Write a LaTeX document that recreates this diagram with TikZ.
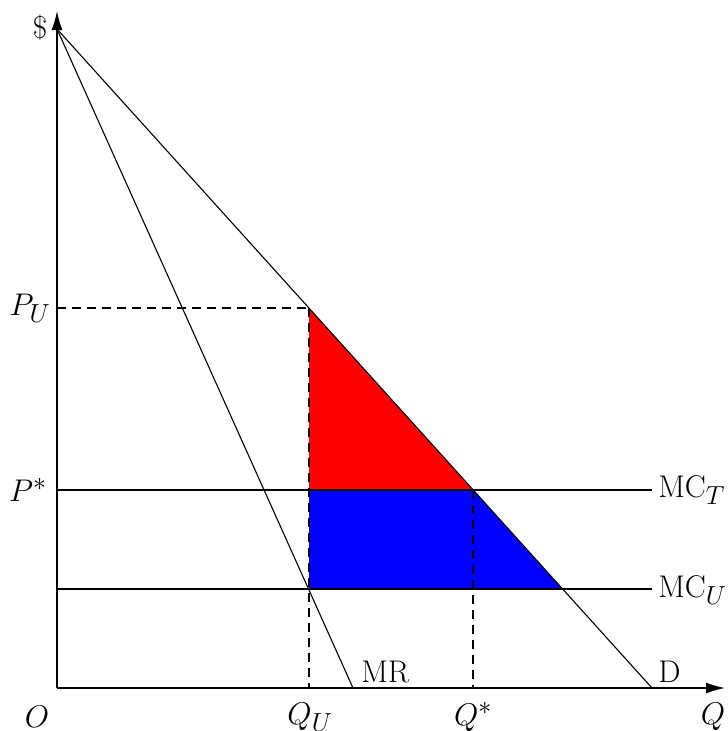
\documentclass[tikz,border=0pt]{standalone}
\usetikzlibrary{arrows.meta}
\begin{document}
\begin{tikzpicture}[x=1pt,y=-1pt,
  lbl/.style={font=\Huge, scale=1.26, inner sep=0pt},
  curve/.style={line width=1.1pt},
  dashline/.style={line width=1.1pt, dash pattern=on 9pt off 6pt},
  axis/.style={line width=1.4pt, -{Latex[length=19pt,width=11pt]}}]
\useasboundingbox (0,0) rectangle (728,731);
% key points
\coordinate (O) at (57,688);
\coordinate (ytop) at (57,11);
\coordinate (xend) at (725,688);
\coordinate (A) at (57,29);
\coordinate (Dend) at (652,688);
\coordinate (MRend) at (353,688);
\coordinate (PU) at (309,308);
\coordinate (Ps) at (473,490);
\coordinate (Bu) at (562,589);
\coordinate (QUy) at (309,589);
\coordinate (QUt) at (309,490);
\coordinate (PUax) at (57,308);
\coordinate (Psax) at (57,490);
\coordinate (MCUax) at (57,589);
\coordinate (MCTend) at (652,490);
\coordinate (MCUend) at (652,589);
\coordinate (QUx) at (309,688);
\coordinate (Qsx) at (473,688);
% areas
\fill[red] (PU) -- (QUt) -- (Ps) -- cycle;
\fill[blue] (QUt) -- (Ps) -- (Bu) -- (QUy) -- cycle;
% dashed guides
\draw[dashline] (PUax) -- (PU);
\draw[dashline] (PU) -- (QUx);
\draw[dashline] (Ps) -- (Qsx);
% cost lines
\draw[curve] (Psax) -- (MCTend);
\draw[curve] (MCUax) -- (MCUend);
% demand and MR
\draw[curve] (A) -- (Dend);
\draw[curve] (A) -- (MRend);
% axes
\draw[axis] (O) -- (ytop);
\draw[axis] (O) -- (xend);
% labels
\node[lbl] (ldollar) at (40,28) {\$};
\node[lbl] (lPU) at (30,308) {$P_U$};
\node[lbl] (lPs) at (28,490) {$P^*$};
\node[lbl] (lO) at (37,717) {$O$};
\node[lbl] (lQU) at (310,717) {$Q_U$};
\node[lbl] (lQs) at (473,717) {$Q^*$};
\node[lbl] (lQ) at (713,717) {$Q$};
\node[lbl, anchor=west] (lMR) at (361,672) {MR};
\node[lbl, anchor=west] (lD) at (658,672) {D};
\node[lbl, anchor=west] (lMCT) at (658,490) {MC$_T$};
\node[lbl, anchor=west] (lMCU) at (658,590) {MC$_U$};
\end{tikzpicture}
\end{document}
